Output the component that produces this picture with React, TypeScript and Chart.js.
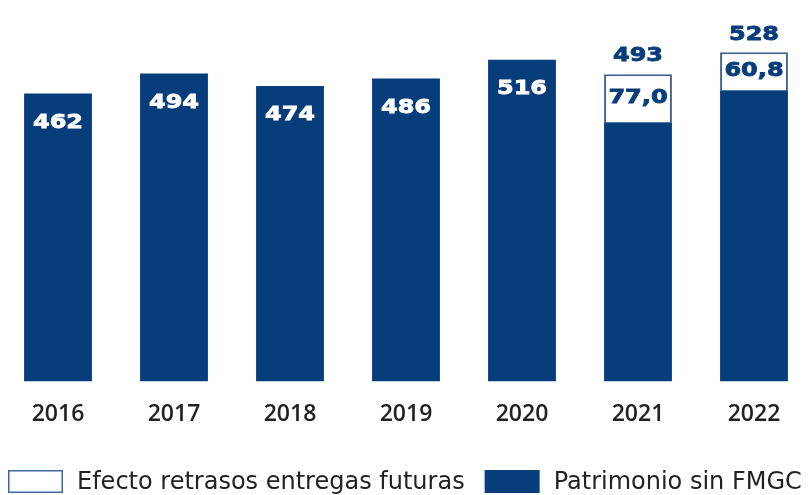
import React, { useEffect, useRef } from "react";
import { Chart, registerables } from "chart.js";

Chart.register(...registerables);

const years = ["2016", "2017", "2018", "2019", "2020", "2021", "2022"];
const patrimonio = [462, 494, 474, 486, 516, 416, 467.2];
const efecto = [null, null, null, null, null, 77.0, 60.8];
const totals = [462, 494, 474, 486, 516, 493, 528];
const legendLabels = ["Efecto retrasos entregas futuras", "Patrimonio sin FMGC"];

const DARK = "#083d7c";
const BORDER = "#40638f";
const LABEL_FONT = "bold 20px 'DejaVu Sans'";
const STRETCH = 1.2;

function fmt(v: number) {
  return v.toFixed(1).replace(".", ",");
}

function stretchedText(ctx: CanvasRenderingContext2D, text: string, x: number, y: number, color: string) {
  ctx.save();
  ctx.translate(x, y);
  ctx.scale(STRETCH, 1);
  ctx.fillStyle = color;
  ctx.strokeStyle = color;
  ctx.lineWidth = 0.8;
  ctx.font = LABEL_FONT;
  ctx.textAlign = "center";
  ctx.textBaseline = "middle";
  ctx.fillText(text, 0, 0);
  ctx.strokeText(text, 0, 0);
  ctx.restore();
}

const labelPlugin = {
  id: "barLabels",
  afterDatasetsDraw(chart: any) {
    const ctx = chart.ctx as CanvasRenderingContext2D;
    const darkMeta = chart.getDatasetMeta(1);
    const whiteMeta = chart.getDatasetMeta(0);
    years.forEach((_, i) => {
      const dark = darkMeta.data[i];
      const white = whiteMeta.data[i];
      const eff = efecto[i];
      if (eff == null) {
        stretchedText(ctx, String(totals[i]), dark.x, dark.y + 29, "#ffffff");
      } else {
        const mid = (white.y + white.base) / 2;
        stretchedText(ctx, fmt(eff), white.x, mid, DARK);
        stretchedText(ctx, String(totals[i]), white.x, white.y - 18, DARK);
      }
    });
  },
};

const legendPlugin = {
  id: "customLegend",
  afterDraw(chart: any) {
    const ctx = chart.ctx as CanvasRenderingContext2D;
    const boxW = 55;
    const boxH = 23;
    const y = chart.height - 25;
    let x = 8;
    ctx.save();
    ctx.font = "24px 'DejaVu Sans'";
    ctx.textBaseline = "middle";
    ctx.textAlign = "left";
    legendLabels.forEach((label, idx) => {
      if (idx === 0) {
        ctx.fillStyle = "#ffffff";
        ctx.fillRect(x, y, boxW, boxH);
        ctx.strokeStyle = "#3d67a3";
        ctx.lineWidth = 1.5;
        ctx.strokeRect(x + 0.75, y + 0.75, boxW - 1.5, boxH - 1.5);
      } else {
        ctx.fillStyle = DARK;
        ctx.fillRect(x, y, boxW, boxH);
      }
      const tx = x + boxW + 14;
      ctx.fillStyle = "#222222";
      ctx.fillText(label, tx, y + boxH / 2 + 1);
      x = tx + ctx.measureText(label).width + 20;
    });
    ctx.restore();
  },
};

export default function App() {
  const ref = useRef<HTMLCanvasElement | null>(null);
  useEffect(() => {
    if (!ref.current) return;
    const chart = new Chart(ref.current, {
      type: "bar",
      data: {
        labels: years,
        datasets: [
          {
            label: legendLabels[0],
            data: years.map((_, i) => (efecto[i] == null ? null : [patrimonio[i], patrimonio[i] + (efecto[i] as number)])) as any,
            backgroundColor: "#ffffff",
            borderColor: BORDER,
            borderWidth: { top: 2, left: 2, right: 2, bottom: 0 },
            borderSkipped: false,
            categoryPercentage: 1,
            barPercentage: 0.585,
            grouped: false,
          },
          {
            label: legendLabels[1],
            data: patrimonio,
            backgroundColor: DARK,
            borderWidth: 0,
            categoryPercentage: 1,
            barPercentage: 0.585,
            grouped: false,
          },
        ],
      },
      options: {
        animation: false,
        responsive: true,
        maintainAspectRatio: false,
        layout: { padding: { left: 0, right: 0, top: 0, bottom: 48 } },
        plugins: {
          legend: { display: false },
          tooltip: { enabled: false },
        },
        scales: {
          x: {
            grid: { display: false, drawTicks: false },
            border: { display: false },
            ticks: {
              color: "#222222",
              font: { family: "'Open Sans'", size: 23, weight: "600" },
              padding: 19,
              maxRotation: 0,
              autoSkip: false,
            },
          },
          y: {
            display: false,
            min: 0,
            max: 612,
          },
        },
      },
      plugins: [labelPlugin, legendPlugin],
    });
    return () => chart.destroy();
  }, []);
  return (
    <div style={{ position: "absolute", left: 0, top: 0, width: 812, height: 495, background: "#ffffff" }}>
      <canvas ref={ref} />
    </div>
  );
}
